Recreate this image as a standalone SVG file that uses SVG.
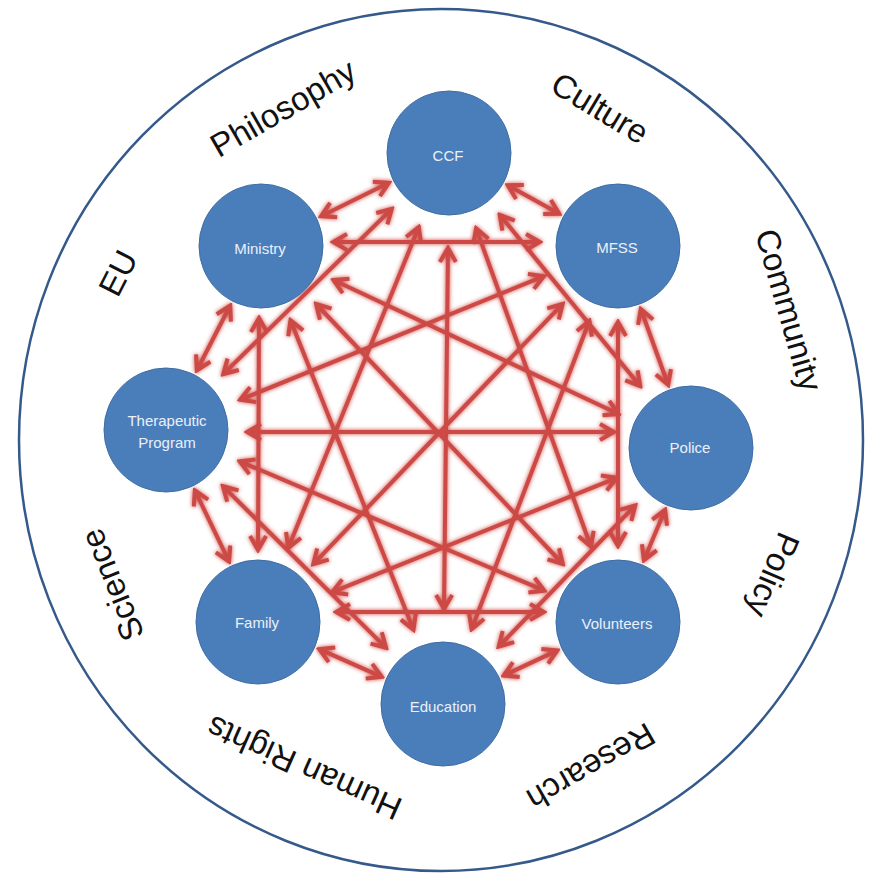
<svg xmlns="http://www.w3.org/2000/svg" width="879" height="874" viewBox="0 0 879 874">
<defs>
<style>
.node circle{fill:#4A7EBB;stroke:#3E6CA3;stroke-width:1}
.node text{font-family:"Liberation Sans",Arial,sans-serif;font-size:15px;fill:#EAF0F8;text-anchor:middle;dominant-baseline:central}
.lbl{font-family:"Liberation Sans",Arial,sans-serif;font-size:33px;fill:#111;text-anchor:middle;dominant-baseline:central}
#connectors line{stroke:#CD4A45;stroke-width:4;fill:none;marker-start:url(#ah);marker-end:url(#ah)}
</style>
<marker id="ah" viewBox="0 0 20 20" markerUnits="userSpaceOnUse" markerWidth="20" markerHeight="20" refX="17" refY="10" orient="auto-start-reverse">
<path d="M3,2 L17,10 L3,18" fill="none" stroke="#CD4A45" stroke-width="4" stroke-linejoin="miter"/>
</marker>
<filter id="glow" x="-10%" y="-10%" width="120%" height="120%">
<feGaussianBlur in="SourceGraphic" stdDeviation="2.2" result="b"/>
<feMerge><feMergeNode in="b"/><feMergeNode in="SourceGraphic"/></feMerge>
</filter>
</defs>
<rect width="879" height="874" fill="#fff"/>
<ellipse id="outer" cx="441" cy="440" rx="422" ry="431" fill="none" stroke="#34598A" stroke-width="2.5"/>

<g id="labels">
<text class="lbl" transform="translate(283,108) rotate(-30)">Philosophy</text>
<text class="lbl" transform="translate(600,108) rotate(31)">Culture</text>
<text class="lbl" transform="translate(789,310) rotate(74)">Community</text>
<text class="lbl" transform="translate(773,575) rotate(113)">Policy</text>
<text class="lbl" transform="translate(591,767) rotate(150)">Research</text>
<text class="lbl" transform="translate(304,768) rotate(204)">Human Rights</text>
<text class="lbl" transform="translate(112,585) rotate(-112)">Science</text>
<text class="lbl" transform="translate(118,273) rotate(-63)">EU</text>
</g>

<g id="connectors" filter="url(#glow)">
<line x1="507.7" y1="185.3" x2="559.3" y2="213.7"/>
<line x1="640.8" y1="309" x2="668.2" y2="385"/>
<line x1="665.1" y1="509.8" x2="643.9" y2="560.2"/>
<line x1="557.4" y1="650.4" x2="503.6" y2="675.6"/>
<line x1="381.8" y1="676.9" x2="319.2" y2="649.1"/>
<line x1="229.1" y1="561.6" x2="194.9" y2="490.4"/>
<line x1="196.8" y1="370.5" x2="230.2" y2="305.5"/>
<line x1="321.1" y1="216.3" x2="388.9" y2="182.7"/>

<line x1="499.7" y1="214.8" x2="640.3" y2="386.2"/>
<line x1="476.1" y1="228.3" x2="590.9" y2="546.7"/>
<line x1="448" y1="248" x2="444" y2="609"/>
<line x1="418.8" y1="227.1" x2="288.2" y2="547.9"/>
<line x1="391.8" y1="208.9" x2="223.2" y2="374.1"/>

<line x1="618" y1="322" x2="618" y2="546"/>
<line x1="589.4" y1="320.7" x2="471.6" y2="629.3"/>
<line x1="562.7" y1="303.8" x2="313.3" y2="564.2"/>
<line x1="543.9" y1="276.2" x2="240.1" y2="399.8"/>
<line x1="540" y1="242" x2="333" y2="242"/>

<line x1="635.3" y1="505.4" x2="498.7" y2="646.6"/>
<line x1="616.8" y1="477.8" x2="332.2" y2="592.2"/>
<line x1="614" y1="432" x2="247" y2="432"/>
<line x1="618.6" y1="414" x2="333.4" y2="280"/>

<line x1="544" y1="612" x2="336" y2="612"/>
<line x1="544.4" y1="590.7" x2="239.6" y2="461.3"/>
<line x1="562.9" y1="564" x2="316.1" y2="304"/>

<line x1="386.1" y1="647.8" x2="222.9" y2="486.2"/>
<line x1="413.5" y1="629.7" x2="290.5" y2="320.3"/>

<line x1="259" y1="318" x2="258" y2="550"/>
</g>

<g id="ccf" class="node"><circle cx="449" cy="153" r="62"/><text x="448" y="155">CCF</text></g>
<g id="mfss" class="node"><circle cx="618" cy="246" r="62"/><text x="617" y="247">MFSS</text></g>
<g id="police" class="node"><circle cx="691" cy="448" r="62"/><text x="690" y="447">Police</text></g>
<g id="volunteers" class="node"><circle cx="618" cy="622" r="62"/><text x="617" y="623">Volunteers</text></g>
<g id="education" class="node"><circle cx="443" cy="704" r="62"/><text x="443" y="706">Education</text></g>
<g id="family" class="node"><circle cx="258" cy="622" r="62"/><text x="257" y="622">Family</text></g>
<g id="therapeutic" class="node"><circle cx="166" cy="430" r="62"/><text x="167" y="420">Therapeutic</text><text x="167" y="442">Program</text></g>
<g id="ministry" class="node"><circle cx="261" cy="246" r="62"/><text x="260" y="248">Ministry</text></g>
</svg>
